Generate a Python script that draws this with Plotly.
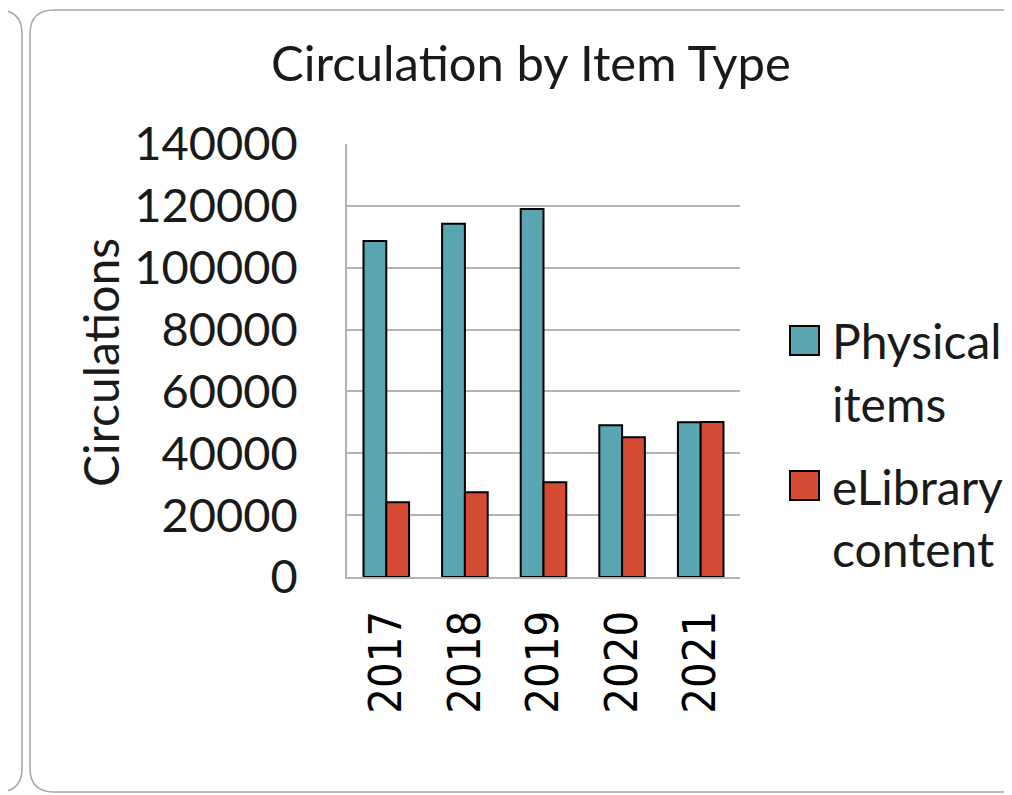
import plotly.graph_objects as go

years = ["2017", "2018", "2019", "2020", "2021"]
physical = [108600, 114200, 119000, 49100, 50000]
elibrary = [24200, 27400, 30600, 45200, 50100]
legend_lines = [["Physical", "items"], ["eLibrary", "content"]]
y_ticks = [0, 20000, 40000, 60000, 80000, 100000, 120000, 140000]
colors = ["#5AA5B2", "#D64B33"]

OFF = 8  # default page body margin
W, H = 1012 - OFF, 795 - OFF
ML, MR, MT, MB = 347 - OFF, 272, 144 - OFF, 218
PW, PH = W - ML - MR, H - MT - MB

def fx(X):
    return (X - OFF - ML) / PW

def fy(Y):
    return (H - MB - (Y - OFF)) / PH

FONT = "Lato, Open Sans, sans-serif"
TXT = "#1a1a1a"

fig = go.Figure()
fig.add_trace(go.Bar(x=years, y=physical, name="Physical items", showlegend=False,
                     marker=dict(color=colors[0], line=dict(color="black", width=2))))
fig.add_trace(go.Bar(x=years, y=elibrary, name="eLibrary content", showlegend=False,
                     marker=dict(color=colors[1], line=dict(color="black", width=2))))

def rrect(x0, y0, x1, y1, r):
    X0, X1 = fx(x0), fx(x1)
    Y0, Y1 = fy(y0), fy(y1)
    rx, ry = r / PW, r / PH
    return (f"M {X0+rx},{Y0} L {X1-rx},{Y0} Q {X1},{Y0} {X1},{Y0-ry} "
            f"L {X1},{Y1+ry} Q {X1},{Y1} {X1-rx},{Y1} L {X0+rx},{Y1} "
            f"Q {X0},{Y1} {X0},{Y1+ry} L {X0},{Y0-ry} Q {X0},{Y0} {X0+rx},{Y0} Z")

shapes = [
    dict(type="path", xref="paper", yref="paper", path=rrect(30, 10, 1060, 792, 24),
         line=dict(color="#A6A6A6", width=1.5), layer="below"),
    dict(type="path", xref="paper", yref="paper", path=rrect(-60, 10, 22, 792, 24),
         line=dict(color="#A6A6A6", width=1.5), layer="below"),
]

annotations = [
    dict(text="Circulation by Item Type", xref="paper", yref="paper",
         x=fx(531), y=fy(62), xanchor="center", yanchor="middle",
         showarrow=False, font=dict(size=49, family=FONT, color=TXT)),
    dict(text="Circulations", xref="paper", yref="paper",
         x=fx(100), y=fy(363), xanchor="center", yanchor="middle",
         textangle=-90, showarrow=False,
         font=dict(size=48, family=FONT, color=TXT)),
]

# legend (drawn manually to match the large square keys)
sq_tops = [326, 471]
baselines = [[357, 420], [503, 565]]
for i in range(2):
    shapes.append(dict(type="rect", xref="paper", yref="paper",
                       x0=fx(790), x1=fx(819), y0=fy(sq_tops[i]), y1=fy(sq_tops[i] + 29),
                       fillcolor=colors[i], line=dict(color="black", width=2)))
    for j, line in enumerate(legend_lines[i]):
        annotations.append(dict(text=line, xref="paper", yref="paper",
                                x=fx(830), y=fy(baselines[i][j] - 17),
                                xanchor="left", yanchor="middle", showarrow=False,
                                font=dict(size=48, family=FONT, color=TXT)))

fig.update_layout(
    width=W, height=H,
    margin=dict(l=ML, r=MR, t=MT, b=MB, autoexpand=False),
    paper_bgcolor="white", plot_bgcolor="white",
    barmode="group", bargap=0.42, bargroupgap=0,
    font=dict(family=FONT, color=TXT),
    showlegend=False,
    shapes=shapes,
    annotations=annotations,
)

fig.update_yaxes(range=[0, 140000], tickvals=y_ticks, ticktext=[str(v) for v in y_ticks],
                 showgrid=True, gridcolor="#B3B3B3", gridwidth=1.5,
                 showline=True, linecolor="#B3B3B3", linewidth=1.5,
                 zeroline=False, ticks="", ticklabelstandoff=38,
                 tickfont=dict(size=47, family=FONT, color=TXT))
fig.update_xaxes(showline=True, linecolor="#B3B3B3", linewidth=1.5,
                 tickangle=-90, ticks="", ticklabelstandoff=14,
                 tickfont=dict(size=45, family="DejaVu Sans Condensed, DejaVu Sans, sans-serif",
                               color="black"))

fig.write_html("out.html")
